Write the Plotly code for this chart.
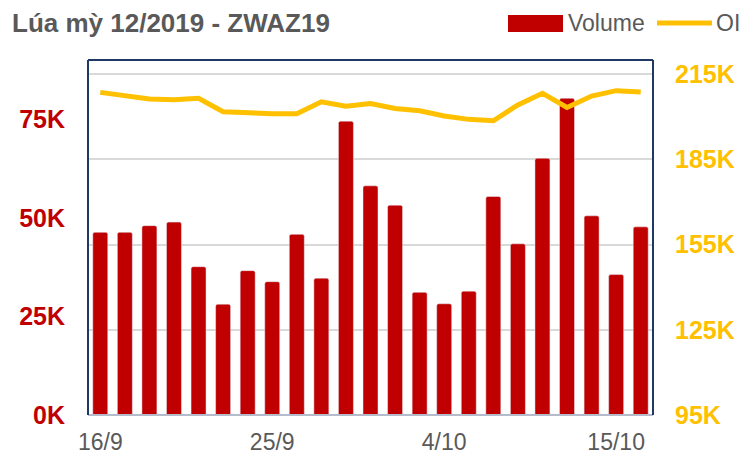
import plotly.graph_objects as go

dates = ["16/9", "17/9", "18/9", "19/9", "20/9", "23/9", "24/9", "25/9", "26/9", "27/9",
         "30/9", "1/10", "2/10", "3/10", "4/10", "7/10", "8/10", "9/10", "10/10", "11/10",
         "14/10", "15/10", "16/10"]
volume_k = [46.3, 46.3, 48.0, 48.9, 37.6, 28.1, 36.6, 33.8, 45.8, 34.7,
            74.5, 58.1, 53.2, 31.1, 28.2, 31.4, 55.4, 43.4, 65.1, 80.3,
            50.5, 35.6, 47.7]
oi_k = [208.6, 207.4, 206.3, 206.0, 206.5, 201.8, 201.4, 201.1, 201.1, 205.3,
        203.7, 204.7, 202.9, 202.1, 200.3, 199.1, 198.6, 204.2, 208.3, 203.3,
        207.3, 209.2, 208.7]
x_ticks = ["16/9", "25/9", "4/10", "15/10"]
left_ticks = [0, 25, 50, 75]
right_ticks = [95, 125, 155, 185, 215]

title_text = "Lúa mỳ 12/2019 - ZWAZ19"
RED = "#C00000"
GOLD = "#FFC000"
GRAY = "#595959"
NAVY = "#1F3864"
FONT = "Liberation Sans, Arial, sans-serif"

fig = go.Figure()
fig.add_trace(go.Bar(x=dates, y=volume_k, name="Volume", marker=dict(color=RED, cornerradius=2),
                     yaxis="y", showlegend=False))
fig.add_trace(go.Scatter(x=dates, y=oi_k, name="OI", mode="lines",
                         line=dict(color=GOLD, width=5), yaxis="y2", showlegend=False))

fig.update_layout(
    width=740, height=454,
    margin=dict(l=88, r=87, t=60, b=39, autoexpand=False),
    paper_bgcolor="white", plot_bgcolor="white",
    font=dict(family=FONT, color=GRAY),
    bargap=0.39,
    xaxis=dict(type="category", tickmode="array", tickvals=x_ticks, ticktext=x_ticks,
               tickfont=dict(size=23, color=GRAY), showgrid=False, ticks="",
               ticklabelstandoff=11, range=[-0.5, 22.5], zeroline=False,
               showline=False, automargin=False),
    yaxis=dict(range=[0, 90], tickmode="array", tickvals=left_ticks,
               ticktext=[f"{v}K" for v in left_ticks],
               tickfont=dict(size=25, color=RED, weight="bold"),
               showgrid=False, zeroline=False, showline=False, ticklabelstandoff=22,
               automargin=False),
    yaxis2=dict(range=[95, 220], tickmode="array", tickvals=right_ticks,
                ticktext=[f"{v}K" for v in right_ticks],
                overlaying="y", side="right",
                tickfont=dict(size=25, color=GOLD, weight="bold"),
                showgrid=True, gridcolor="#D9D9D9", gridwidth=1.5, zeroline=False,
                showline=False, ticklabelstandoff=21, automargin=False),
)

# frame of the plot area
fig.add_shape(type="line", xref="paper", yref="paper", x0=0, x1=1, y0=0, y1=0,
              line=dict(color="#B4BCCC", width=2), layer="above")
fig.add_shape(type="line", xref="paper", yref="paper", x0=0, x1=0, y0=0, y1=1,
              line=dict(color=NAVY, width=2), layer="above")
fig.add_shape(type="line", xref="paper", yref="paper", x0=1, x1=1, y0=0, y1=1,
              line=dict(color=NAVY, width=2), layer="above")
fig.add_shape(type="line", xref="paper", yref="paper", x0=0, x1=1, y0=1, y1=1,
              line=dict(color=NAVY, width=2), layer="above")

# title
fig.add_annotation(text="<b>" + title_text + "</b>", xref="paper", yref="paper",
                   x=-78/565, y=1 + 37/355, xanchor="left", yanchor="middle",
                   showarrow=False, font=dict(size=26, color=GRAY, family=FONT))

# custom legend
px = lambda v: (v - 88) / 565
py = lambda v: (415 - v) / 355
fig.add_shape(type="rect", xref="paper", yref="paper", x0=px(508), x1=px(563),
              y0=py(32), y1=py(15), fillcolor=RED, line=dict(width=0))
fig.add_annotation(text="Volume", xref="paper", yref="paper", x=px(566), y=py(23),
                   xanchor="left", yanchor="middle", showarrow=False,
                   font=dict(size=23, color=GRAY, family=FONT))
fig.add_shape(type="line", xref="paper", yref="paper", x0=px(657), x1=px(712),
              y0=py(23), y1=py(23), line=dict(color=GOLD, width=5))
fig.add_annotation(text="OI", xref="paper", yref="paper", x=px(714), y=py(23),
                   xanchor="left", yanchor="middle", showarrow=False,
                   font=dict(size=23, color=GRAY, family=FONT))

fig.write_html("out.html", config={"displayModeBar": False},
               post_script="document.body.style.margin='0';")
